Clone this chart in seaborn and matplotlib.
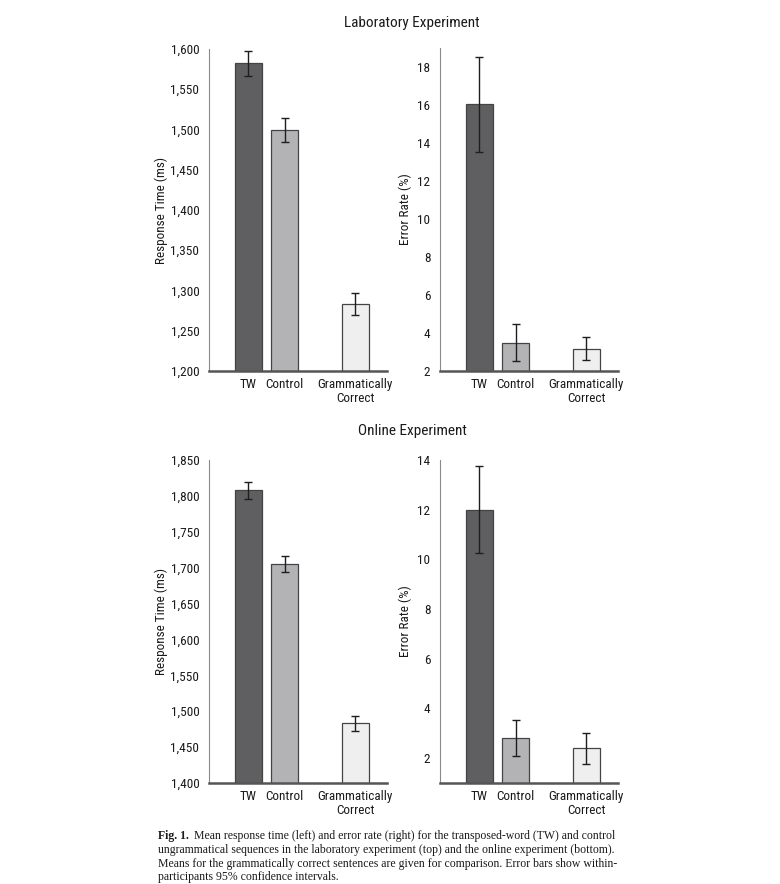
import numpy as np
import pandas as pd
import matplotlib
matplotlib.use("Agg")
import matplotlib.pyplot as plt
import matplotlib.font_manager as fm
import seaborn as sns

# ---------------- data ----------------
categories = ["TW", "Control", "Grammatically\nCorrect"]
lab_rt = [1582, 1499, 1283]
lab_rt_ci = [16, 15, 14]
lab_err = [16.05, 3.5, 3.18]
lab_err_ci = [2.5, 0.95, 0.62]
online_rt = [1808, 1705, 1483]
online_rt_ci = [12, 11, 10]
online_err = [12.0, 2.8, 2.4]
online_err_ci = [1.74, 0.73, 0.62]

rt_ticks_lab = [1200, 1250, 1300, 1350, 1400, 1450, 1500, 1550, 1600]
err_ticks_lab = [2, 4, 6, 8, 10, 12, 14, 16, 18]
rt_ticks_online = [1400, 1450, 1500, 1550, 1600, 1650, 1700, 1750, 1800, 1850]
err_ticks_online = [2, 4, 6, 8, 10, 12, 14]

positions = [0.0, 1.0, 2.95]
colors = ["#5e5f63", "#b2b3b7", "#efefef"]

# ---------------- fonts ----------------
sns.set_style("white")
avail = {f.name for f in fm.fontManager.ttflist}
sans = "Liberation Sans Narrow" if "Liberation Sans Narrow" in avail else (
    "Roboto Condensed" if "Roboto Condensed" in avail else "DejaVu Sans")
plt.rcParams["font.family"] = [sans, "DejaVu Sans"]
serif = "Liberation Serif" if "Liberation Serif" in avail else "DejaVu Serif"

W, H = 780, 884
fig = plt.figure(figsize=(W / 100, H / 100), dpi=100)


def px_axes(left, top, right, bottom):
    return fig.add_axes([left / W, 1 - bottom / H, (right - left) / W, (bottom - top) / H])


def panel(ax, vals, cis, ylim, ticks, ylabel, fmt_comma, lpad):
    df = pd.DataFrame({"pos": positions, "val": vals, "cat": categories})
    sns.barplot(data=df, x="pos", y="val", hue="cat", palette=colors,
                native_scale=True, width=0.74, edgecolor="#444444",
                linewidth=0.9, legend=False, ax=ax)
    ax.errorbar(positions, vals, yerr=cis, fmt="none", ecolor="#1e1e1e",
                elinewidth=1.0, capsize=3.2, capthick=1.0, zorder=5)
    ax.set_xlim(-1.08, 3.82)
    ax.set_ylim(*ylim)
    ax.set_yticks(ticks)
    if fmt_comma:
        ax.set_yticklabels([f"{t:,}" for t in ticks])
    else:
        ax.set_yticklabels([str(t) for t in ticks])
    ax.set_xticks(positions)
    ax.set_xticklabels(categories, fontsize=9.5, color="#1a1a1a", linespacing=1.15)
    ax.set_xlabel("")
    ax.set_ylabel(ylabel, fontsize=9.5, color="#1a1a1a", labelpad=lpad)
    for s in ["top", "right"]:
        ax.spines[s].set_visible(False)
    ax.spines["left"].set_color("#8a8a8a")
    ax.spines["left"].set_linewidth(0.8)
    ax.spines["bottom"].set_color("#555555")
    ax.spines["bottom"].set_linewidth(1.8)
    ax.tick_params(axis="y", direction="out", length=4, width=0.8,
                   color="#8a8a8a", labelsize=9.5, labelcolor="#1a1a1a", pad=3)
    ax.tick_params(axis="x", length=0, pad=5)
    ax.set_facecolor("white")


ax1 = px_axes(209, 49, 387, 371)
panel(ax1, lab_rt, lab_rt_ci, (1200, 1600), rt_ticks_lab, "Response Time (ms)", True, 2)
ax2 = px_axes(440, 48, 618, 371)
panel(ax2, lab_err, lab_err_ci, (2, 19), err_ticks_lab, "Error Rate (%)", False, 4)
ax3 = px_axes(209, 460, 387, 783)
panel(ax3, online_rt, online_rt_ci, (1400, 1850), rt_ticks_online, "Response Time (ms)", True, 2)
ax4 = px_axes(440, 460, 618, 783)
panel(ax4, online_err, online_err_ci, (1, 14), err_ticks_online, "Error Rate (%)", False, 4)

fig.text(412 / W, 1 - 23 / H, "Laboratory Experiment", ha="center", va="center",
         fontsize=11, color="#1a1a1a")
fig.text(412 / W, 1 - 431 / H, "Online Experiment", ha="center", va="center",
         fontsize=11, color="#1a1a1a")

# ---------------- caption ----------------
cap_x = 158
cap_lines_y = [836, 850, 864, 877]
cap_fs = 8.5
renderer = fig.canvas.get_renderer()
t_bold = fig.text(cap_x / W, 1 - cap_lines_y[0] / H, "Fig. 1.", fontsize=cap_fs,
                  family=serif, weight="bold", va="center", ha="left", color="#1a1a1a")
bb = t_bold.get_window_extent(renderer=renderer)
rest = ["Mean response time (left) and error rate (right) for the transposed-word (TW) and control",
        "ungrammatical sequences in the laboratory experiment (top) and the online experiment (bottom).",
        "Means for the grammatically correct sentences are given for comparison. Error bars show within-",
        "participants 95% confidence intervals."]
fig.text((bb.x1 + 5) / W, 1 - cap_lines_y[0] / H, rest[0], fontsize=cap_fs, family=serif,
         va="center", ha="left", color="#1a1a1a")
for line, y in zip(rest[1:], cap_lines_y[1:]):
    fig.text(cap_x / W, 1 - y / H, line, fontsize=cap_fs, family=serif,
             va="center", ha="left", color="#1a1a1a")

fig.savefig("out.png", dpi=100, facecolor="white")
